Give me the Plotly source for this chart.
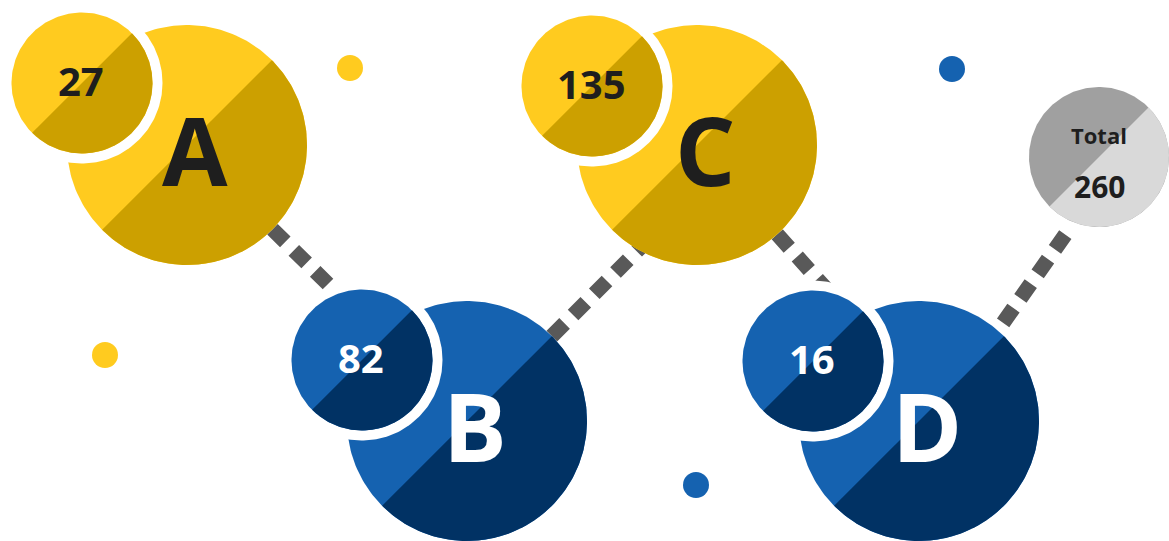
import numpy as np
import plotly.graph_objects as go

# ---- data ----
labels = ["A", "B", "C", "D"]
values = [27, 82, 135, 16]
total_label = "Total"
total_value = 260

# ---- layout (pixel coordinates, y downwards) ----
W, H = 1169, 541
big_x = [187, 467, 697, 919]
big_y = [145, 421, 145, 421]
big_r = 120
small_x = [82, 362, 592, 813]
small_y = [83, 360, 86, 361]
small_r = 70.5
ring = 10
tot_x, tot_y, tot_r = 1099, 157, 70
dot_x = [350, 105, 952, 696]
dot_y = [68, 355, 69, 485]
dot_kind = ["y", "y", "b", "b"]
conn_x0 = [187, 467, 697, 934]
conn_y0 = [145, 421, 145, 421]
conn_x1 = [467, 747, 945, 1120]
conn_y1 = [421, 141, 421, 157]

# ---- styles ----
YL, YD = "#FFCB1F", "#CCA000"
BL, BD = "#1562B0", "#013264"
GD, GL = "#A0A0A0", "#D9D9D9"
DASH = "#595959"
TXT_DARK = "#1E1E1E"
FONT = "Open Sans"
light = {"y": YL, "b": BL}
dark = {"y": YD, "b": BD}
kinds = ["y", "b", "y", "b"]

fig = go.Figure()


def circle_pts(cx, cy, r, a0=0, a1=360, n=240):
    t = np.radians(np.linspace(a0, a1, n))
    xs = cx + r * np.cos(t)
    ys = cy - r * np.sin(t)
    return list(xs), list(ys)


def add_poly(xs, ys, color):
    fig.add_trace(go.Scatter(x=xs, y=ys, mode="lines", fill="toself",
                             fillcolor=color, line=dict(width=0, color=color),
                             hoverinfo="skip", showlegend=False))


def split_circle(cx, cy, r, c_ul, c_lr):
    xs, ys = circle_pts(cx, cy, r)
    add_poly(xs, ys, c_ul)
    xs, ys = circle_pts(cx, cy, r, 225, 405)
    add_poly(xs, ys, c_lr)


# connectors
for x0, y0, x1, y1 in zip(conn_x0, conn_y0, conn_x1, conn_y1):
    fig.add_trace(go.Scatter(x=[x0, x1], y=[y0, y1], mode="lines",
                             line=dict(color=DASH, width=15, dash="18px,12px"),
                             hoverinfo="skip", showlegend=False))

# big circles
for i in range(4):
    split_circle(big_x[i], big_y[i], big_r, light[kinds[i]], dark[kinds[i]])

# dots
for k in ["y", "b"]:
    xs = [x for x, kk in zip(dot_x, dot_kind) if kk == k]
    ys = [y for y, kk in zip(dot_y, dot_kind) if kk == k]
    fig.add_trace(go.Scatter(x=xs, y=ys, mode="markers",
                             marker=dict(size=26, color=light[k], line=dict(width=0)),
                             hoverinfo="skip", showlegend=False))

# small circles with white rings
for i in range(4):
    xs, ys = circle_pts(small_x[i], small_y[i], small_r + ring)
    add_poly(xs, ys, "#FFFFFF")
    split_circle(small_x[i], small_y[i], small_r, light[kinds[i]], dark[kinds[i]])

# total circle
xs, ys = circle_pts(tot_x, tot_y, tot_r + ring)
add_poly(xs, ys, "#FFFFFF")
split_circle(tot_x, tot_y, tot_r, GD, GL)

# texts
ann = []
for i in range(4):
    col = TXT_DARK if kinds[i] == "y" else "#FFFFFF"
    ann.append(dict(x=big_x[i] + 8, y=big_y[i] + 4, text=labels[i], showarrow=False,
                    xref="x", yref="y", xanchor="center", yanchor="middle",
                    font=dict(family=FONT, size=95, color=col, weight="bold")))
    ann.append(dict(x=small_x[i] - 1, y=small_y[i] - 3, text=str(values[i]), showarrow=False,
                    xref="x", yref="y", xanchor="center", yanchor="middle",
                    font=dict(family=FONT, size=40, color=col, weight="bold")))
ann.append(dict(x=tot_x, y=tot_y - 22, text=total_label, showarrow=False,
                xref="x", yref="y", xanchor="center", yanchor="middle",
                font=dict(family=FONT, size=22, color=TXT_DARK, weight="bold")))
ann.append(dict(x=tot_x, y=tot_y + 29, text=str(total_value), showarrow=False,
                xref="x", yref="y", xanchor="center", yanchor="middle",
                font=dict(family=FONT, size=30, color=TXT_DARK, weight="bold")))

fig.update_layout(
    width=W, height=H,
    margin=dict(l=0, r=0, t=0, b=0),
    paper_bgcolor="#FFFFFF", plot_bgcolor="#FFFFFF",
    xaxis=dict(range=[0, W], visible=False, fixedrange=True),
    yaxis=dict(range=[H, 0], visible=False, fixedrange=True),
    annotations=ann,
    showlegend=False,
)

fig.write_html("out.html", config={"displayModeBar": False})

# remove the default page margin so the figure sits at the window's corner
with open("out.html", "r", encoding="utf-8") as f:
    html = f.read()
html = html.replace("<body>", '<body style="margin:0;padding:0;overflow:hidden">', 1)
with open("out.html", "w", encoding="utf-8") as f:
    f.write(html)
